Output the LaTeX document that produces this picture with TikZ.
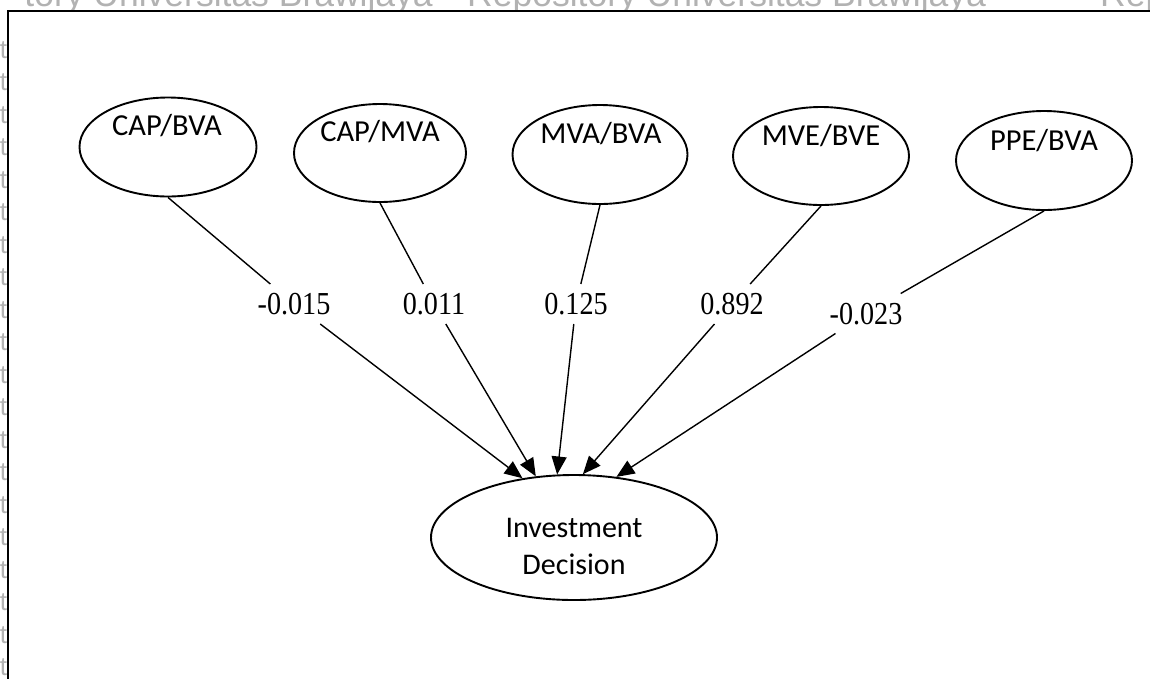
\documentclass[tikz,border=0pt]{standalone}
\usepackage{fontspec}
\setmainfont{Carlito}
\newfontfamily\numfont{Liberation Serif}
\newfontfamily\wmfont{Liberation Sans}
\usetikzlibrary{arrows.meta,shapes.geometric}

\begin{document}
\begin{tikzpicture}[x=1pt,y=-1pt,
  wm/.style={font=\wmfont\fontsize{35.5}{40}\selectfont, text=black!30, inner sep=0pt},
  wmside/.style={font=\wmfont\fontsize{26}{30}\selectfont, text=black!30, inner sep=0pt},
  var/.style={ellipse, draw, line width=1.9pt, inner sep=0pt},
  vtxt/.style={font=\fontsize{30.5}{36}\selectfont, inner sep=0pt, text height=19.5pt, text depth=0pt},
  coef/.style={font=\numfont\fontsize{32}{38}\selectfont, text height=21.6pt, text depth=0pt,
               inner xsep=2pt, inner ysep=9pt},
  link/.style={line width=1.4pt},
  arr/.style={link, -{Triangle[length=18pt,width=15pt]}}]

\useasboundingbox (0,0) rectangle (1150,678);

% repository watermark behind the page frame
\node[wm, anchor=base east] (wma) at (433,6) {tory Universitas Brawijaya};
\node[wm, anchor=base west] (wmb) at (467,6) {Repository Universitas Brawijaya};
\node[wm, anchor=base west] (wmc) at (1100,6) {Repository};
\foreach \k in {0,...,19}
  \node[wmside, anchor=base west] (wms\k) at (-19,{58+32.5*\k}) {sitas};

% page frame
\draw[line width=2pt, fill=white] (8,11) rectangle (1175,700);

% independent variables
\node[var, minimum width=177pt, minimum height=99pt] (capbva) at (168,147) {};
\node[var, minimum width=172pt, minimum height=98pt] (capmva) at (380,153) {};
\node[var, minimum width=175pt, minimum height=99pt] (mvabva) at (600,154.5) {};
\node[var, minimum width=176pt, minimum height=98pt] (mvebve) at (821,156) {};
\node[var, minimum width=176pt, minimum height=99pt] (ppebva) at (1044,160.5) {};

\node[vtxt] (capbvat) at (167,126) {CAP/BVA};
\node[vtxt] (capmvat) at (380,132) {CAP/MVA};
\node[vtxt] (mvabvat) at (601,134) {MVA/BVA};
\node[vtxt] (mvebvet) at (821,136) {MVE/BVE};
\node[vtxt] (ppebvat) at (1044,141) {PPE/BVA};

% dependent variable
\node[var, minimum width=286pt, minimum height=125pt] (inv) at (574,537.5) {};
\node[font=\fontsize{30}{37}\selectfont, align=center, inner sep=0pt] (invt) at (574,546) {Investment\\Decision};

% path coefficients
\node[coef] (c1) at (294,304) {\scalebox{0.88}[1]{-0.015}};
\node[coef] (c2) at (434,304) {\scalebox{0.88}[1]{0.011}};
\node[coef] (c3) at (576,304) {\scalebox{0.88}[1]{0.125}};
\node[coef] (c4) at (732,304) {\scalebox{0.88}[1]{0.892}};
\node[coef] (c5) at (866,313.5) {\scalebox{0.88}[1]{-0.023}};

% connectors
\draw[link] (capbva.south) -- (c1);
\draw[link] (capmva.south) -- (c2);
\draw[link] (mvabva.south) -- (c3);
\draw[link] (mvebve.south) -- (c4);
\draw[link] (ppebva.south) -- (c5);

\draw[arr] (c1) -- (inv.131);
\draw[arr] (c2) -- (inv.122);
\draw[arr] (c3) -- (inv.105);
\draw[arr] (c4) -- (inv.82);
\draw[arr] (c5) -- (inv.55);
\end{tikzpicture}
\end{document}
